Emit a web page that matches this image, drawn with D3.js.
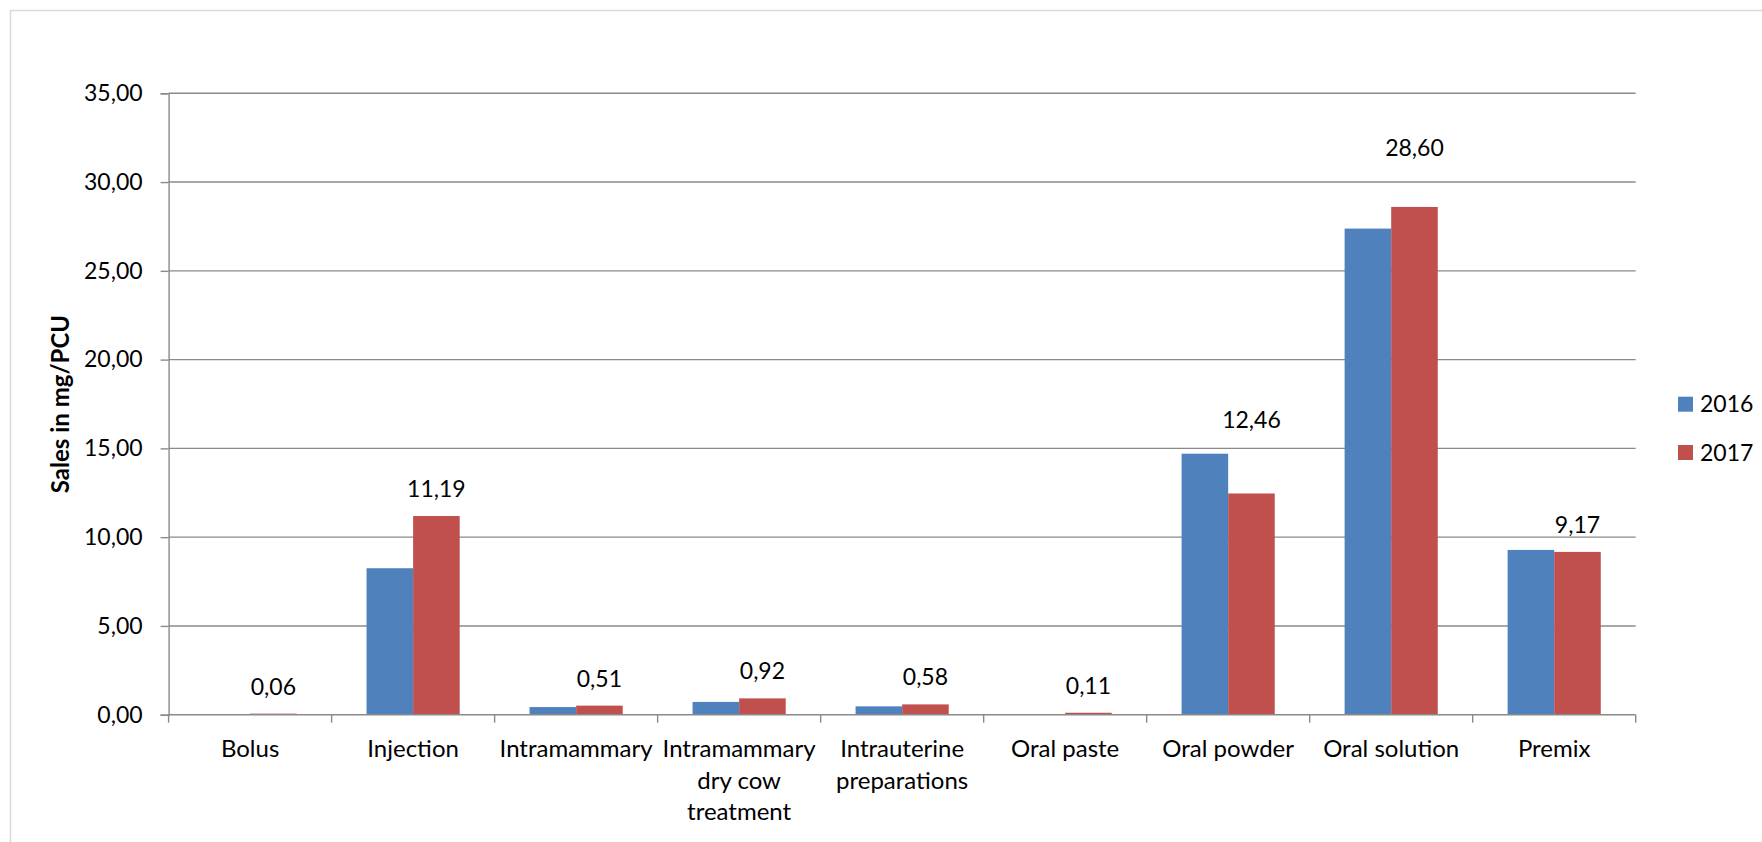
<!DOCTYPE html>
<html>
<head>
<meta charset="utf-8">
<script src="https://cdn.jsdelivr.net/npm/d3@7"></script>
<style>
  html, body { margin: 0; padding: 0; background: #ffffff; }
  svg { display: block; font-family: Lato, "Open Sans", sans-serif; }
</style>
</head>
<body>
<svg id="chart" width="1762" height="842"></svg>
<script>
// Antimicrobial sales by pharmaceutical form, mg/PCU
const categories = [
  "Bolus", "Injection", "Intramammary", "Intramammary dry cow treatment",
  "Intrauterine preparations", "Oral paste", "Oral powder", "Oral solution", "Premix"
];
// wrapped category labels (one entry per line)
const categoryLines = [
  ["Bolus"], ["Injection"], ["Intramammary"], ["Intramammary", "dry cow", "treatment"],
  ["Intrauterine", "preparations"], ["Oral paste"], ["Oral powder"], ["Oral solution"], ["Premix"]
];
const seriesNames = ["2016", "2017"];
const values2016 = [0.00, 8.25, 0.43, 0.72, 0.47, 0.00, 14.70, 27.38, 9.28];
const values2017 = [0.06, 11.19, 0.51, 0.92, 0.58, 0.11, 12.46, 28.60, 9.17];
const yTicks = [0, 5, 10, 15, 20, 25, 30, 35];
const yTitle = "Sales in mg/PCU";

// extra lift of the 2017 value labels above the usual spot (px)
const labelLift = [0, 0, 0, 0, 0, 0, 47, 32, 0];

const colors = { "2016": "#4F81BD", "2017": "#C0504D" };
const gridColor = "#8a8a8a";

const locale = d3.formatLocale({ decimal: ",", thousands: ".", grouping: [3], currency: ["", " €"] });
const fmt = locale.format(".2f");

const svg = d3.select("#chart");

// outer chart frame
svg.append("rect")
  .attr("x", 10.5).attr("y", 10.5)
  .attr("width", 1800).attr("height", 900)
  .attr("fill", "#ffffff")
  .attr("stroke", "#d9d9d9").attr("stroke-width", 1.5);

const plot = { left: 168.6, right: 1635.7, top: 93.3, bottom: 714.7 };

const x = d3.scaleBand().domain(categories).range([plot.left, plot.right]).padding(0);
const y = d3.scaleLinear().domain([0, 35]).range([plot.bottom, plot.top]);

// 150% gap between clusters: category = 2 bars + 1.5 bar widths
const barW = x.bandwidth() / 3.5;
const x1 = d3.scaleBand().domain(seriesNames)
  .range([barW * 0.75, barW * 0.75 + 2 * barW]).padding(0);

// horizontal gridlines
svg.append("g")
  .selectAll("line")
  .data(yTicks.filter(t => t > 0))
  .join("line")
  .attr("x1", plot.left).attr("x2", plot.right)
  .attr("y1", d => y(d)).attr("y2", d => y(d))
  .attr("stroke", gridColor).attr("stroke-width", 1.4);

// y axis
const yAxis = svg.append("g")
  .attr("transform", `translate(${plot.left},0)`)
  .call(d3.axisLeft(y).tickValues(yTicks).tickFormat(fmt).tickSize(8).tickPadding(18));
yAxis.select(".domain").attr("stroke", gridColor).attr("stroke-width", 1.4);
yAxis.selectAll(".tick line").attr("stroke", gridColor).attr("stroke-width", 1.4);
yAxis.selectAll(".tick text")
  .attr("font-family", "Lato, 'Open Sans', sans-serif")
  .attr("font-size", 23).attr("fill", "#000");

// bars
const rows = categories.map((c, i) => ({ cat: c, i, "2016": values2016[i], "2017": values2017[i] }));
const groups = svg.append("g").selectAll("g")
  .data(rows)
  .join("g")
  .attr("transform", d => `translate(${x(d.cat)},0)`);

groups.selectAll("rect")
  .data(d => seriesNames.map(s => ({ s, v: d[s] })))
  .join("rect")
  .attr("x", d => x1(d.s))
  .attr("width", x1.bandwidth())
  .attr("y", d => y(d.v))
  .attr("height", d => y(0) - y(d.v))
  .attr("fill", d => colors[d.s]);

// x axis baseline and category ticks
svg.append("line")
  .attr("x1", plot.left).attr("x2", plot.right)
  .attr("y1", y(0)).attr("y2", y(0))
  .attr("stroke", gridColor).attr("stroke-width", 1.4);
const boundaries = categories.map(c => x(c)).concat([plot.right]);
svg.append("g").selectAll("line")
  .data(boundaries)
  .join("line")
  .attr("x1", d => d).attr("x2", d => d)
  .attr("y1", y(0)).attr("y2", y(0) + 8)
  .attr("stroke", gridColor).attr("stroke-width", 1.4);

// category labels
const xl = svg.append("g").selectAll("text")
  .data(categories)
  .join("text")
  .attr("x", d => x(d) + x.bandwidth() / 2)
  .attr("y", 757)
  .attr("text-anchor", "middle")
  .attr("font-size", 24)
  .attr("fill", "#000");
xl.each(function(d, i) {
  const t = d3.select(this);
  categoryLines[i].forEach((line, k) => {
    t.append("tspan")
      .attr("x", x(d) + x.bandwidth() / 2)
      .attr("dy", k === 0 ? 0 : 31.5)
      .text(line);
  });
});

// value labels on the 2017 series
svg.append("g").selectAll("text")
  .data(rows)
  .join("text")
  .attr("x", d => x(d.cat) + x1("2017") + x1.bandwidth() / 2)
  .attr("y", d => y(d["2017"]) - 27 - labelLift[d.i])
  .attr("dy", "0.35em")
  .attr("text-anchor", "middle")
  .attr("font-size", 23)
  .attr("fill", "#000")
  .text(d => fmt(d["2017"]));

// y axis title
svg.append("text")
  .attr("transform", `translate(61,${(315 + 493) / 2}) rotate(-90)`)
  .attr("text-anchor", "middle")
  .attr("dy", "0.35em")
  .attr("font-size", 24)
  .attr("font-weight", "bold")
  .attr("fill", "#000")
  .text(yTitle);

// legend
const legend = svg.append("g").selectAll("g")
  .data(seriesNames)
  .join("g")
  .attr("transform", (d, i) => `translate(1678,${396.7 + i * 48.3})`);
legend.append("rect")
  .attr("width", 15).attr("height", 15)
  .attr("fill", d => colors[d]);
legend.append("text")
  .attr("x", 22).attr("y", 7.5)
  .attr("dy", "0.35em")
  .attr("font-size", 23)
  .attr("fill", "#000")
  .text(d => d);
</script>
</body>
</html>
